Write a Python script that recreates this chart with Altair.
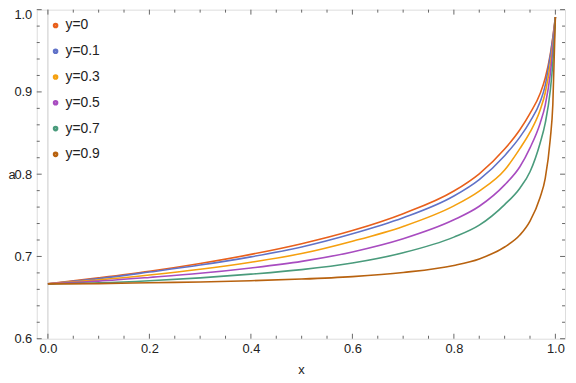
import altair as alt
import pandas as pd

xs = [0, 0.1, 0.2, 0.3, 0.4, 0.5, 0.6, 0.7, 0.8, 0.85, 0.9, 0.93, 0.95, 0.97, 0.98, 0.99, 0.995, 1.0]
series_names = ["y=0", "y=0.1", "y=0.3", "y=0.5", "y=0.7", "y=0.9"]
a_y0 = [0.6667, 0.674, 0.682, 0.6915, 0.7025, 0.7155, 0.7315, 0.752, 0.7795, 0.8005, 0.8305, 0.854, 0.874, 0.898, 0.917, 0.946, 0.967, 0.991]
a_y01 = [0.6667, 0.673, 0.681, 0.6895, 0.6995, 0.7115, 0.7275, 0.747, 0.7735, 0.7935, 0.8225, 0.845, 0.864, 0.888, 0.908, 0.944, 0.965, 0.991]
a_y03 = [0.6667, 0.6715, 0.6775, 0.6845, 0.693, 0.7035, 0.7185, 0.7365, 0.7615, 0.7795, 0.805, 0.831, 0.851, 0.878, 0.899, 0.934, 0.958, 0.991]
a_y05 = [0.6667, 0.670, 0.6745, 0.6795, 0.686, 0.694, 0.7055, 0.7215, 0.7445, 0.761, 0.787, 0.809, 0.832, 0.862, 0.884, 0.922, 0.952, 0.991]
a_y07 = [0.6667, 0.668, 0.6705, 0.674, 0.6785, 0.684, 0.692, 0.7045, 0.7235, 0.738, 0.763, 0.783, 0.803, 0.838, 0.862, 0.902, 0.936, 0.991]
a_y09 = [0.6667, 0.667, 0.668, 0.669, 0.6705, 0.6725, 0.6755, 0.6805, 0.689, 0.697, 0.7115, 0.726, 0.743, 0.772, 0.795, 0.843, 0.885, 0.991]
colors = ["#E8601C", "#6072C8", "#F5A00F", "#A84CC0", "#4A9B7C", "#B8620F"]

x_major = [0, 0.2, 0.4, 0.6, 0.8, 1.0]
x_minor = [0.05, 0.1, 0.15, 0.25, 0.3, 0.35, 0.45, 0.5, 0.55, 0.65, 0.7, 0.75, 0.85, 0.9, 0.95]
y_major = [0.6, 0.7, 0.8, 0.9, 1.0]
y_minor = [0.62, 0.64, 0.66, 0.68, 0.72, 0.74, 0.76, 0.78, 0.82, 0.84, 0.86, 0.88, 0.92, 0.94, 0.96, 0.98]

W, H = 533, 332
FRAME = "#666666"
FONT = "Liberation Sans"

rows = []
for name, vals in zip(series_names, [a_y0, a_y01, a_y03, a_y05, a_y07, a_y09]):
    for i, (x, a) in enumerate(zip(xs, vals)):
        rows.append({"x": x, "a": a, "series": name, "order": i})
df = pd.DataFrame(rows)

xscale = alt.Scale(domain=[-0.022, 1.019], nice=False, zero=False)
yscale = alt.Scale(domain=[0.6, 1.0], nice=False, zero=False)

lines = alt.Chart(df).mark_line(strokeWidth=1.6, interpolate="monotone", clip=True).encode(
    x=alt.X("x:Q", scale=xscale,
            axis=alt.Axis(values=x_major, format=".1f", ticks=False, domain=False, grid=False,
                          labelFont=FONT, labelFontSize=13, labelColor="#222222", labelPadding=4,
                          title="x", titleFont=FONT, titleFontSize=13, titleFontWeight="normal",
                          titleColor="#222222", titlePadding=8)),
    y=alt.Y("a:Q", scale=yscale,
            axis=alt.Axis(values=y_major, format=".1f", ticks=False, domain=False, grid=False,
                          labelFont=FONT, labelFontSize=13, labelColor="#222222", labelPadding=5,
                          labelOffset={"condition": {"test": "datum.value > 0.99", "value": 5}, "value": 0},
                          title="a", titleFont=FONT, titleFontSize=13, titleFontWeight="normal",
                          titleColor="#222222", titleAngle=0, titleAlign="left", titleBaseline="middle",
                          titleX=-29, titleY=166)),
    color=alt.Color("series:N", sort=series_names,
                    scale=alt.Scale(domain=series_names, range=colors),
                    legend=alt.Legend(title=None, orient="none", legendX=12, legendY=9,
                                      symbolType="circle", symbolSize=10, symbolStrokeWidth=2.5,
                                      labelFont=FONT, labelFontSize=14, labelColor="#222222",
                                      labelOffset=3, rowPadding=12, padding=0)),
    order="order:Q",
)

zero_line = alt.Chart(pd.DataFrame({"x": [0.0]})).mark_rule(color="#c8c8c8", strokeWidth=1).encode(
    x="x:Q", y=alt.value(0), y2=alt.value(H))

def xticks(vals, L):
    d = pd.DataFrame({"x": vals})
    bot = alt.Chart(d).mark_rule(color=FRAME, strokeWidth=1).encode(x="x:Q", y=alt.value(H), y2=alt.value(H - L))
    top = alt.Chart(d).mark_rule(color=FRAME, strokeWidth=1).encode(x="x:Q", y=alt.value(0), y2=alt.value(L))
    return [bot, top]

def yticks(vals, L):
    d = pd.DataFrame({"a": vals})
    left = alt.Chart(d).mark_rule(color=FRAME, strokeWidth=1).encode(y="a:Q", x=alt.value(0), x2=alt.value(L))
    right = alt.Chart(d).mark_rule(color=FRAME, strokeWidth=1).encode(y="a:Q", x=alt.value(W), x2=alt.value(W - L))
    return [left, right]

layers = [zero_line] + xticks(x_major, 5) + xticks(x_minor, 3) + yticks(y_major, 5) + yticks(y_minor, 3) + [lines]

chart = alt.layer(*layers).properties(
    width=W, height=H,
    autosize=alt.AutoSizeParams(type="none"),
    padding={"left": 29, "top": 0, "right": 3, "bottom": 41},
).configure_view(stroke=FRAME, strokeWidth=1).configure(background="white")

chart.save("out.html", embed_options={"renderer": "svg", "actions": False})
